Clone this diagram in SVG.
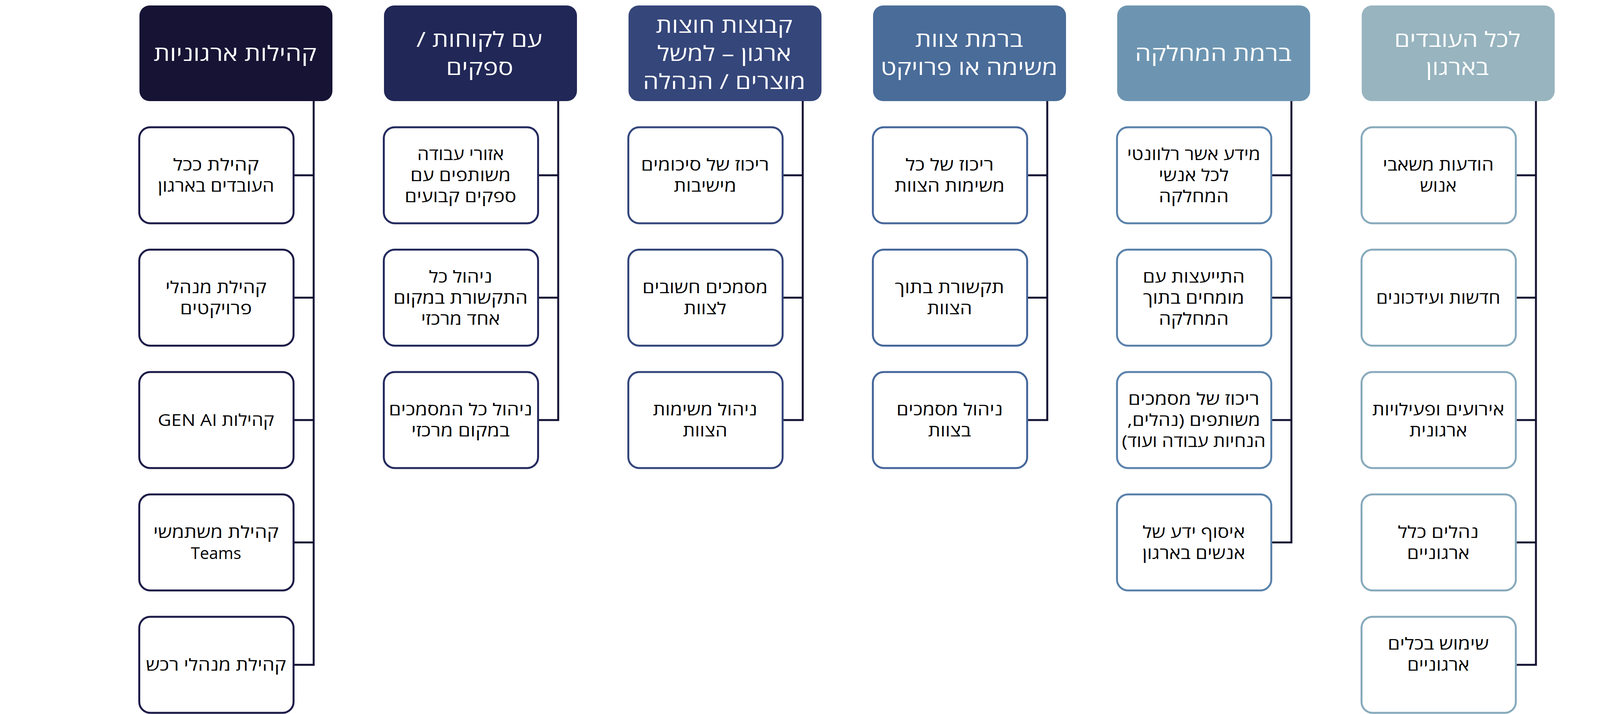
<svg xmlns="http://www.w3.org/2000/svg" width="4336" height="1829" viewBox="0 0 4336 1829">
<style>
text{font-family:"Open Sans","Liberation Sans",sans-serif;direction:rtl;text-anchor:middle}
.ht{fill:#ffffff;font-size:53px}
.ct{fill:#000000;font-size:42px}
.child{fill:#ffffff;stroke-width:5}
.hdr{stroke:none}
.conn{fill:none;stroke:#141233;stroke-width:5;stroke-linejoin:miter}
.h1{fill:#161335}.h2{fill:#212756}.h3{fill:#35467a}.h4{fill:#4a6c99}.h5{fill:#6d95b1}.h6{fill:#97b4bf}
.s1{stroke:#1c1b48}.s2{stroke:#242a5e}.s3{stroke:#34477c}.s4{stroke:#46679b}.s5{stroke:#5a82ab}.s6{stroke:#88aabc}
</style>
<rect width="4336" height="1829" fill="#ffffff"/>
<g id="connectors">
<path class="conn" d="M803 259V1703H753.5M753.5 449H803M753.5 762.5H803M753.5 1076H803M753.5 1389.5H803"/>
<path class="conn" d="M1429 259V1076H1379.5M1379.5 449H1429M1379.5 762.5H1429"/>
<path class="conn" d="M2055 259V1076H2005.5M2005.5 449H2055M2005.5 762.5H2055"/>
<path class="conn" d="M2681 259V1076H2631.5M2631.5 449H2681M2631.5 762.5H2681"/>
<path class="conn" d="M3306 259V1389.5H3256.5M3256.5 449H3306M3256.5 762.5H3306M3256.5 1076H3306"/>
<path class="conn" d="M3932 259V1703H3882.5M3882.5 449H3932M3882.5 762.5H3932M3882.5 1076H3932M3882.5 1389.5H3932"/>
</g>
<g id="col1-header"><rect class="hdr h1" x="357" y="14" width="494" height="245" rx="26"/><text class="ht" x="602" y="155.5" textLength="417" lengthAdjust="spacingAndGlyphs">קהילות ארגוניות</text></g>
<g id="col1-n1"><rect class="child s1" x="356.5" y="326" width="395" height="246" rx="28"/><text class="ct" x="553" y="437" textLength="220" lengthAdjust="spacingAndGlyphs">קהילת ככל</text><text class="ct" x="553" y="491" textLength="298" lengthAdjust="spacingAndGlyphs">העובדים בארגון</text></g>
<g id="col1-n2"><rect class="child s1" x="356.5" y="639.5" width="395" height="246" rx="28"/><text class="ct" x="553" y="750.5" textLength="259" lengthAdjust="spacingAndGlyphs">קהילת מנהלי</text><text class="ct" x="553" y="804.5" textLength="184" lengthAdjust="spacingAndGlyphs">פרויקטים</text></g>
<g id="col1-n3"><rect class="child s1" x="356.5" y="953" width="395" height="246" rx="28"/><text class="ct" x="553" y="1091" textLength="298" lengthAdjust="spacingAndGlyphs">קהילות GEN AI</text></g>
<g id="col1-n4"><rect class="child s1" x="356.5" y="1266.5" width="395" height="246" rx="28"/><text class="ct" x="553" y="1377.5" textLength="321" lengthAdjust="spacingAndGlyphs">קהילת משתמשי</text><text class="ct" x="553" y="1431.5" textLength="129" lengthAdjust="spacingAndGlyphs">Teams</text></g>
<g id="col1-n5"><rect class="child s1" x="356.5" y="1580" width="395" height="246" rx="28"/><text class="ct" x="553" y="1718" textLength="359" lengthAdjust="spacingAndGlyphs">קהילת מנהלי רכש</text></g>

<g id="col2-header"><rect class="hdr h2" x="983" y="14" width="494" height="245" rx="26"/><text class="ht" x="1227" y="119.5" textLength="322" lengthAdjust="spacingAndGlyphs">עם לקוחות /</text><text class="ht" x="1228" y="191.5" textLength="172" lengthAdjust="spacingAndGlyphs">ספקים</text></g>
<g id="col2-n1"><rect class="child s2" x="982.5" y="326" width="395" height="246" rx="28"/><text class="ct" x="1179" y="410" textLength="222" lengthAdjust="spacingAndGlyphs">אזורי עבודה</text><text class="ct" x="1179" y="464" textLength="257" lengthAdjust="spacingAndGlyphs">משותפים עם</text><text class="ct" x="1179" y="518" textLength="286" lengthAdjust="spacingAndGlyphs">ספקים קבועים</text></g>
<g id="col2-n2"><rect class="child s2" x="982.5" y="639.5" width="395" height="246" rx="28"/><text class="ct" x="1179" y="723.5" textLength="162" lengthAdjust="spacingAndGlyphs">ניהול כל</text><text class="ct" x="1179" y="777.5" textLength="344" lengthAdjust="spacingAndGlyphs">התקשורת במקום</text><text class="ct" x="1179" y="831.5" textLength="202" lengthAdjust="spacingAndGlyphs">אחד מרכזי</text></g>
<g id="col2-n3"><rect class="child s2" x="982.5" y="953" width="395" height="246" rx="28"/><text class="ct" x="1179" y="1064" textLength="367" lengthAdjust="spacingAndGlyphs">ניהול כל המסמכים</text><text class="ct" x="1179" y="1118" textLength="252" lengthAdjust="spacingAndGlyphs">במקום מרכזי</text></g>

<g id="col3-header"><rect class="hdr h3" x="1609" y="14" width="494" height="245" rx="26"/><text class="ht" x="1854" y="83.5" textLength="350" lengthAdjust="spacingAndGlyphs">קבוצות חוצות</text><text class="ht" x="1854" y="155.5" textLength="343" lengthAdjust="spacingAndGlyphs">ארגון – למשל</text><text class="ht" x="1854" y="227.5" textLength="416" lengthAdjust="spacingAndGlyphs">מוצרים / הנהלה</text></g>
<g id="col3-n1"><rect class="child s3" x="1608.5" y="326" width="395" height="246" rx="28"/><text class="ct" x="1805" y="437" textLength="328" lengthAdjust="spacingAndGlyphs">ריכוז של סיכומים</text><text class="ct" x="1805" y="491" textLength="160" lengthAdjust="spacingAndGlyphs">מישיבות</text></g>
<g id="col3-n2"><rect class="child s3" x="1608.5" y="639.5" width="395" height="246" rx="28"/><text class="ct" x="1805" y="750.5" textLength="321" lengthAdjust="spacingAndGlyphs">מסמכים חשובים</text><text class="ct" x="1805" y="804.5" textLength="109" lengthAdjust="spacingAndGlyphs">לצוות</text></g>
<g id="col3-n3"><rect class="child s3" x="1608.5" y="953" width="395" height="246" rx="28"/><text class="ct" x="1805" y="1064" textLength="267" lengthAdjust="spacingAndGlyphs">ניהול משימות</text><text class="ct" x="1805" y="1118" textLength="114" lengthAdjust="spacingAndGlyphs">הצוות</text></g>

<g id="col4-header"><rect class="hdr h4" x="2235" y="14" width="494" height="245" rx="26"/><text class="ht" x="2481" y="119.5" textLength="276" lengthAdjust="spacingAndGlyphs">ברמת צוות</text><text class="ht" x="2481" y="191.5" textLength="453" lengthAdjust="spacingAndGlyphs">משימה או פרויקט</text></g>
<g id="col4-n1"><rect class="child s4" x="2234.5" y="326" width="395" height="246" rx="28"/><text class="ct" x="2431" y="437" textLength="226" lengthAdjust="spacingAndGlyphs">ריכוז של כל</text><text class="ct" x="2431" y="491" textLength="282" lengthAdjust="spacingAndGlyphs">משימות הצוות</text></g>
<g id="col4-n2"><rect class="child s4" x="2234.5" y="639.5" width="395" height="246" rx="28"/><text class="ct" x="2431" y="750.5" textLength="280" lengthAdjust="spacingAndGlyphs">תקשורת בתוך</text><text class="ct" x="2431" y="804.5" textLength="115" lengthAdjust="spacingAndGlyphs">הצוות</text></g>
<g id="col4-n3"><rect class="child s4" x="2234.5" y="953" width="395" height="246" rx="28"/><text class="ct" x="2431" y="1064" textLength="272" lengthAdjust="spacingAndGlyphs">ניהול מסמכים</text><text class="ct" x="2431" y="1118" textLength="110" lengthAdjust="spacingAndGlyphs">בצוות</text></g>

<g id="col5-header"><rect class="hdr h5" x="2860" y="14" width="494" height="245" rx="26"/><text class="ht" x="3106" y="155.5" textLength="401" lengthAdjust="spacingAndGlyphs">ברמת המחלקה</text></g>
<g id="col5-n1"><rect class="child s5" x="2859.5" y="326" width="395" height="246" rx="28"/><text class="ct" x="3056" y="410" textLength="341" lengthAdjust="spacingAndGlyphs">מידע אשר רלוונטי</text><text class="ct" x="3056" y="464" textLength="179" lengthAdjust="spacingAndGlyphs">לכל אנשי</text><text class="ct" x="3056" y="518" textLength="179" lengthAdjust="spacingAndGlyphs">המחלקה</text></g>
<g id="col5-n2"><rect class="child s5" x="2859.5" y="639.5" width="395" height="246" rx="28"/><text class="ct" x="3056" y="723.5" textLength="261" lengthAdjust="spacingAndGlyphs">התייעצות עם</text><text class="ct" x="3056" y="777.5" textLength="259" lengthAdjust="spacingAndGlyphs">מומחים בתוך</text><text class="ct" x="3056" y="831.5" textLength="179" lengthAdjust="spacingAndGlyphs">המחלקה</text></g>
<g id="col5-n3"><rect class="child s5" x="2859.5" y="953" width="395" height="246" rx="28"/><text class="ct" x="3056" y="1037" textLength="336" lengthAdjust="spacingAndGlyphs">ריכוז של מסמכים</text><text class="ct" x="3056" y="1091" textLength="340" lengthAdjust="spacingAndGlyphs">משותפים (נהלים,</text><text class="ct" x="3056" y="1145" textLength="368" lengthAdjust="spacingAndGlyphs">הנחיות עבודה ועוד)</text></g>
<g id="col5-n4"><rect class="child s5" x="2859.5" y="1266.5" width="395" height="246" rx="28"/><text class="ct" x="3056" y="1377.5" textLength="262" lengthAdjust="spacingAndGlyphs">איסוף ידע של</text><text class="ct" x="3056" y="1431.5" textLength="263" lengthAdjust="spacingAndGlyphs">אנשים בארגון</text></g>

<g id="col6-header"><rect class="hdr h6" x="3486" y="14" width="494" height="245" rx="26"/><text class="ht" x="3731" y="119.5" textLength="323" lengthAdjust="spacingAndGlyphs">לכל העובדים</text><text class="ht" x="3731" y="191.5" textLength="161" lengthAdjust="spacingAndGlyphs">בארגון</text></g>
<g id="col6-n1"><rect class="child s6" x="3485.5" y="326" width="395" height="246" rx="28"/><text class="ct" x="3682" y="437" textLength="284" lengthAdjust="spacingAndGlyphs">הודעות משאבי</text><text class="ct" x="3682" y="491" textLength="94" lengthAdjust="spacingAndGlyphs">אנוש</text></g>
<g id="col6-n2"><rect class="child s6" x="3485.5" y="639.5" width="395" height="246" rx="28"/><text class="ct" x="3682" y="777.5" textLength="318" lengthAdjust="spacingAndGlyphs">חדשות ועידכונים</text></g>
<g id="col6-n3"><rect class="child s6" x="3485.5" y="953" width="395" height="246" rx="28"/><text class="ct" x="3682" y="1064" textLength="338" lengthAdjust="spacingAndGlyphs">אירועים ופעילויות</text><text class="ct" x="3682" y="1118" textLength="148" lengthAdjust="spacingAndGlyphs">ארגונית</text></g>
<g id="col6-n4"><rect class="child s6" x="3485.5" y="1266.5" width="395" height="246" rx="28"/><text class="ct" x="3682" y="1377.5" textLength="207" lengthAdjust="spacingAndGlyphs">נהלים כלל</text><text class="ct" x="3682" y="1431.5" textLength="160" lengthAdjust="spacingAndGlyphs">ארגוניים</text></g>
<g id="col6-n5"><rect class="child s6" x="3485.5" y="1580" width="395" height="246" rx="28"/><text class="ct" x="3682" y="1664" textLength="259" lengthAdjust="spacingAndGlyphs">שימוש בכלים</text><text class="ct" x="3682" y="1718" textLength="159" lengthAdjust="spacingAndGlyphs">ארגוניים</text></g>
</svg>
